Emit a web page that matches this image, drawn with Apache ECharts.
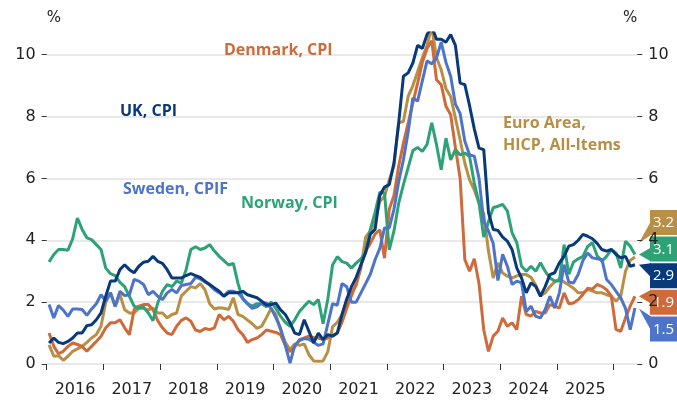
<!DOCTYPE html>
<html>
<head>
<meta charset="utf-8">
<script src="https://cdn.jsdelivr.net/npm/echarts@6/dist/echarts.min.js"></script>
<style>
  html, body { margin: 0; padding: 0; background: #fff; }
  #chart { width: 677px; height: 400px; }
</style>
</head>
<body>
<div id="chart"></div>
<script>
// monthly values, Jan 2016 .. May 2026 (one row per year)
const years = ['2016', '2017', '2018', '2019', '2020', '2021', '2022', '2023', '2024', '2025']
const yTicks = [0, 2, 4, 6, 8, 10]

const uk = [
  0.68, 0.84, 0.70, 0.66, 0.73, 0.84, 1.0, 1.0, 1.24, 1.27, 1.43, 1.65,
  2.19, 2.68, 2.68, 3.05, 3.21, 3.05, 2.95, 3.16, 3.29, 3.32, 3.48, 3.32,
  3.25, 3.05, 2.78, 2.78, 2.78, 2.86, 2.92, 2.86, 2.8, 2.68, 2.57, 2.46,
  2.35, 2.19, 2.3, 2.3, 2.3, 2.35, 2.24, 2.19, 2.14, 2.03, 1.9, 1.92,
  1.97, 1.75, 1.6, 1.33, 1.0, 0.95, 1.43, 1.06, 0.68, 1.0, 0.79, 0.95,
  0.9, 1.0, 1.6, 2.1, 2.5, 2.8, 3.2, 3.6, 4.2, 4.35, 5.45, 5.72,
  5.8, 6.5, 7.8, 9.3, 9.41, 9.73, 10.3, 10.2, 10.65, 10.9, 10.5, 10.5,
  10.4, 10.65, 10.3, 9.08, 9.03, 8.35, 7.6, 6.98, 6.93, 4.9, 4.35, 4.32,
  4.1, 3.97, 3.7, 3.1, 2.78, 2.3, 2.62, 2.51, 2.19, 2.5, 2.89, 2.95,
  3.27, 3.48, 3.81, 3.86, 4.0, 4.19, 4.13, 4.05, 3.9, 3.7, 3.65, 3.7,
  3.54, 3.43, 3.48, 3.16, 3.21
]

const euro = [
  0.62, 0.25, 0.27, 0.12, 0.25, 0.41, 0.49, 0.57, 0.70, 0.84, 0.95, 1.22,
  2.0, 2.3, 1.85, 2.25, 1.75, 1.65, 1.65, 1.8, 1.8, 1.75, 1.8, 1.65,
  1.65, 1.49, 1.6, 1.65, 2.2, 2.35, 2.5, 2.46, 2.6, 2.4, 1.95, 1.78,
  1.82, 1.8, 1.76, 2.14, 1.6, 1.54, 1.42, 1.3, 1.15, 1.22, 1.5, 1.8,
  1.6, 1.1, 0.7, 0.46, 0.65, 0.6, 0.65, 0.3, 0.1, 0.09, 0.1, 0.4,
  1.2, 1.35, 1.6, 2.0, 2.3, 2.55, 3.1, 4.1, 4.3, 4.6, 5.25, 5.42,
  5.95, 6.4, 7.8, 7.84, 8.65, 9.0, 9.45, 9.9, 10.3, 10.9, 9.9, 9.51,
  8.9, 8.65, 7.95, 7.25, 6.49, 5.95, 5.63, 5.2, 4.85, 3.65, 2.78, 3.27,
  2.94, 2.84, 2.78, 2.85, 2.89, 2.89, 2.8, 2.55, 2.2, 2.3, 2.5, 2.65,
  2.75, 2.65, 2.55, 2.45, 2.3, 2.3, 2.41, 2.36, 2.3, 2.3, 2.24, 2.19,
  2.03, 2.2, 3.0, 3.35, 3.46
]

const denmark = [
  1.0, 0.57, 0.33, 0.41, 0.57, 0.68, 0.63, 0.57, 0.41, 0.57, 0.73, 0.9,
  1.17, 1.33, 1.33, 1.43, 1.17, 0.95, 1.76, 1.87, 1.92, 1.92, 1.76, 1.4,
  1.17, 1.0, 0.95, 1.22, 1.41, 1.49, 1.38, 1.1, 1.05, 1.15, 1.11, 1.17,
  1.6, 1.43, 1.54, 1.38, 1.11, 0.95, 0.7, 0.79, 0.84, 0.95, 1.1, 1.06,
  1.02, 0.95, 0.6, 0.4, 0.55, 0.79, 0.84, 0.9, 0.86, 0.84, 0.79, 0.84,
  0.92, 1.0, 1.35, 1.8, 2.2, 2.6, 3.2, 3.65, 3.9, 4.2, 4.34, 3.42,
  5.0, 5.45, 6.4, 7.14, 7.79, 8.44, 9.08, 9.75, 10.2, 10.45, 9.19, 9.03,
  8.33, 8.06, 7.0, 6.0, 3.37, 3.0, 3.4, 2.6, 1.1, 0.41, 0.9, 1.06,
  1.49, 1.22, 1.33, 1.11, 2.19, 1.6, 1.55, 1.7, 1.65, 1.65, 1.92, 1.87,
  1.81, 2.3, 1.95, 1.97, 2.08, 2.25, 2.45, 2.42, 2.57, 2.51, 2.4, 2.2,
  1.11, 1.06, 1.49, 1.87, 2.19
]

const sweden = [
  1.92, 1.49, 1.89, 1.74, 1.54, 1.78, 1.78, 1.76, 1.57, 1.78, 1.95, 2.24,
  2.03, 2.3, 1.87, 2.35, 2.21, 2.24, 2.73, 2.68, 2.57, 2.24, 2.35, 2.19,
  2.08, 2.3, 2.41, 2.3, 2.54, 2.57, 2.6, 2.8, 2.75, 2.65, 2.55, 2.4,
  2.3, 2.2, 2.35, 2.35, 2.3, 2.12, 1.95, 1.8, 1.85, 1.97, 1.97, 1.8,
  1.5, 1.15, 0.6, 0.03, 0.6, 0.76, 0.82, 0.8, 0.7, 0.6, 0.65, 1.3,
  1.95, 1.9, 2.6, 2.5, 2.0, 2.0, 2.3, 2.6, 2.9, 3.37, 3.74, 4.4,
  4.4, 5.0, 5.9, 6.6, 7.5, 8.6, 8.5, 9.15, 9.8, 9.7, 9.9, 10.4,
  9.75, 9.3, 8.4, 8.1, 7.2, 6.76, 6.72, 6.0, 4.6, 4.3, 3.9, 2.7,
  3.55, 3.16, 2.57, 2.68, 2.62, 1.7, 1.87, 1.54, 1.49, 1.76, 2.19, 1.81,
  2.3, 3.21, 2.65, 2.62, 2.9, 3.35, 3.59, 3.43, 3.4, 3.38, 2.73, 2.57,
  2.35, 2.14, 1.8, 1.11, 1.81
]

const norway = [
  3.3, 3.54, 3.7, 3.7, 3.68, 4.05, 4.72, 4.35, 4.08, 4.02, 3.86, 3.7,
  3.1, 2.92, 2.86, 2.64, 2.5, 2.19, 1.87, 1.81, 1.84, 1.65, 1.4, 1.97,
  2.35, 2.57, 2.5, 2.68, 2.62, 3.05, 3.7, 3.79, 3.7, 3.75, 3.86, 3.65,
  3.48, 3.34, 3.2, 3.25, 2.6, 2.1, 1.95, 1.87, 1.95, 1.95, 1.85, 2.0,
  1.8, 1.54, 1.35, 1.22, 1.43, 1.7, 1.87, 2.03, 1.92, 2.08, 1.3, 2.1,
  3.2, 3.47, 3.31, 3.26, 3.1, 3.26, 3.4, 3.6, 4.35, 4.9, 5.55, 5.52,
  3.69, 4.3, 5.2, 5.8, 6.35, 6.9, 7.0, 6.87, 7.1, 7.8, 7.09, 6.28,
  7.3, 6.6, 6.93, 6.76, 6.82, 6.71, 5.85, 5.2, 4.1, 4.6, 5.05, 5.1,
  5.16, 4.94, 4.24, 3.92, 3.16, 3.0, 3.16, 3.0, 3.27, 3.0, 2.78, 2.68,
  2.68, 3.86, 2.9, 3.3, 3.4, 3.48, 3.8, 3.92, 3.5, 3.32, 3.48, 3.7,
  3.59, 3.1, 3.97, 3.81, 3.54
]

// latest published readings shown in the right-hand badges
const latestEuro = 3.2
const latestNorway = 3.1
const latestUk = 2.9
const latestDenmark = 1.9
const latestSweden = 1.5

const colors = {
  uk: '#083A7B',
  denmark: '#CF6A3B',
  sweden: '#4D74C8',
  norway: '#2EA277',
  euro: '#B98E45'
}

const lines = [
  { name: 'Euro Area, HICP, All-Items', data: euro, color: colors.euro, latest: latestEuro },
  { name: 'Denmark, CPI', data: denmark, color: colors.denmark, latest: latestDenmark },
  { name: 'Norway, CPI', data: norway, color: colors.norway, latest: latestNorway },
  { name: 'Sweden, CPIF', data: sweden, color: colors.sweden, latest: latestSweden },
  { name: 'UK, CPI', data: uk, color: colors.uk, latest: latestUk }
]

const nMonths = uk.length
const axisFont = 'DejaVu Sans'
const noteFont = 'bold 16px "Open Sans"'

const yAxisCommon = {
  type: 'value',
  min: 0,
  max: 10.7,
  name: '%',
  nameLocation: 'end',
  nameGap: 7,
  axisLine: { show: false },
  axisTick: { show: true, length: 5, customValues: yTicks, lineStyle: { color: '#333' } },
  axisLabel: { customValues: yTicks, margin: 11, fontSize: 16, color: '#222', fontFamily: axisFont }
}

const option = {
  animation: false,
  grid: { left: 46.7, right: 39.7, top: 33, bottom: 36 },
  xAxis: {
    type: 'value',
    min: 0,
    max: nMonths,
    offset: 7,
    axisLine: { show: false },
    splitLine: { show: false },
    axisTick: {
      show: true,
      length: 6,
      customValues: years.map((y, k) => k * 12).concat(years.length * 12),
      lineStyle: { color: '#333' }
    },
    axisLabel: {
      customValues: years.map((y, k) => k * 12 + 6),
      formatter: (v) => years[Math.round((v - 6) / 12)],
      margin: 11,
      fontSize: 16,
      color: '#222',
      fontFamily: axisFont
    }
  },
  yAxis: [
    Object.assign({}, yAxisCommon, {
      position: 'left',
      nameTextStyle: { align: 'left', fontSize: 15, color: '#222', fontFamily: axisFont },
      splitLine: { show: true, lineStyle: { color: '#e2e2e2', width: 1.5 } }
    }),
    Object.assign({}, yAxisCommon, {
      position: 'right',
      nameTextStyle: { align: 'right', fontSize: 15, color: '#222', fontFamily: axisFont },
      splitLine: { show: false }
    })
  ],
  series: lines.map((s) => ({
    name: s.name,
    type: 'line',
    data: s.data.map((v, i) => [i + 0.5, v]),
    showSymbol: false,
    symbol: 'none',
    lineStyle: { color: s.color, width: 3 },
    clip: true
  }))
}

const chart = echarts.init(document.getElementById('chart'))
chart.setOption(option)

// series name notes
const notes = [
  { text: 'Denmark, CPI', x: 224, y: 50, color: colors.denmark },
  { text: 'UK, CPI', x: 120, y: 111, color: colors.uk },
  { text: 'Sweden, CPIF', x: 123, y: 189, color: colors.sweden },
  { text: 'Norway, CPI', x: 241, y: 203, color: colors.norway },
  { text: 'Euro Area,\nHICP, All-Items', x: 503, y: 134, color: colors.euro }
]
const graphics = notes.map((n) => ({
  type: 'text',
  x: n.x,
  y: n.y,
  style: { text: n.text, fill: n.color, font: noteFont, lineHeight: 22, verticalAlign: 'middle' }
}))

// end-value badges, stacked by latest value, pointing at each line's last point
const badgeLeft = 650
const badgeTop = 210
const badgeH = 25
const badgeStep = 26.6
const sorted = lines.slice().sort((a, b) => b.latest - a.latest)
sorted.forEach((s, k) => {
  const end = chart.convertToPixel({ gridIndex: 0 }, [nMonths - 0.5, s.data[nMonths - 1]])
  const top = badgeTop + k * badgeStep
  const bottom = top + badgeH
  const tipX = end[0] + 4
  const tipY = Math.min(Math.max(end[1], top - 8), bottom + 8)
  const y1 = Math.min(Math.max(tipY - 7, top), bottom - 14)
  graphics.push(
    { type: 'polygon', shape: { points: [[badgeLeft + 1, y1], [tipX, tipY], [badgeLeft + 1, y1 + 14]] }, style: { fill: s.color } },
    { type: 'rect', shape: { x: badgeLeft, y: top, width: 40, height: badgeH }, style: { fill: s.color } },
    { type: 'text', style: { text: s.latest.toFixed(1), x: badgeLeft + 13.5, y: top + badgeH / 2 + 0.5, align: 'center', verticalAlign: 'middle', fill: '#fff', font: '15px "Open Sans"' } }
  )
})
chart.setOption({ graphic: graphics })
</script>
</body>
</html>
